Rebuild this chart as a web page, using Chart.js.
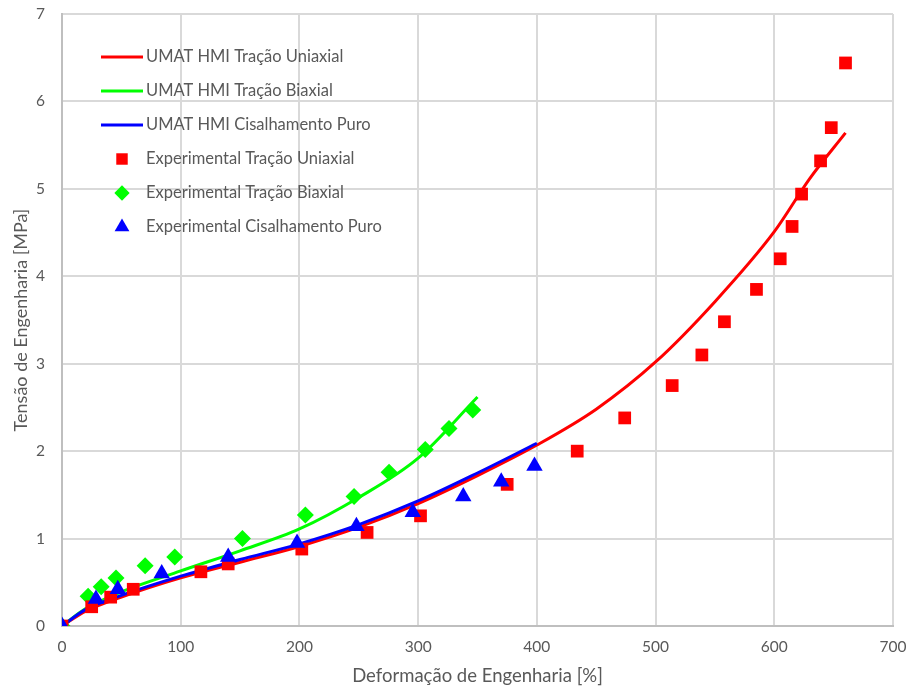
<!DOCTYPE html>
<html>
<head>
<meta charset="utf-8">
<script src="https://cdn.jsdelivr.net/npm/chart.js@4/dist/chart.umd.min.js"></script>
<style>
  html, body { margin: 0; padding: 0; background: #fff; }
  #wrap { width: 909px; height: 691px; position: relative; }
</style>
</head>
<body>
<div id="wrap"><canvas id="chart"></canvas></div>
<script>
// model curves (UMAT HMI)
var uniModelStrain = [0, 20, 50, 100, 150, 200, 250, 300, 350, 400, 450, 500, 550, 600, 630, 660];
var uniModelStress = [0, 0.17, 0.33, 0.55, 0.73, 0.91, 1.13, 1.40, 1.72, 2.07, 2.48, 3.02, 3.71, 4.51, 5.12, 5.64];

var biModelStrain = [0, 20, 50, 100, 150, 200, 250, 300, 350];
var biModelStress = [0, 0.20, 0.39, 0.63, 0.86, 1.11, 1.47, 1.92, 2.62];

var shearModelStrain = [0, 20, 50, 100, 150, 200, 250, 300, 350, 400];
var shearModelStress = [0, 0.19, 0.35, 0.57, 0.76, 0.94, 1.16, 1.43, 1.75, 2.09];

// experimental points
var uniExpStrain = [0, 25, 41, 60, 117, 140, 202, 257, 302, 375, 434, 474, 514, 539, 558, 585, 605, 615, 623, 639, 648, 660];
var uniExpStress = [0, 0.22, 0.33, 0.42, 0.62, 0.71, 0.88, 1.07, 1.26, 1.62, 2.00, 2.38, 2.75, 3.10, 3.48, 3.85, 4.20, 4.57, 4.94, 5.32, 5.70, 6.44];

var biExpStrain = [0, 22, 33, 45.5, 70, 95, 152, 205, 246, 275.5, 306, 326, 346];
var biExpStress = [0, 0.34, 0.45, 0.55, 0.69, 0.79, 1.00, 1.27, 1.48, 1.76, 2.02, 2.26, 2.47];

var shearExpStrain = [0, 28.6, 47, 84, 140, 198, 248, 295.5, 338, 370, 398];
var shearExpStress = [0, 0.31, 0.42, 0.60, 0.79, 0.95, 1.14, 1.30, 1.48, 1.65, 1.83];

var xTicks = [0, 100, 200, 300, 400, 500, 600, 700];
var yTicks = [0, 1, 2, 3, 4, 5, 6, 7];

var labels = [
    'UMAT HMI Tração Uniaxial',
    'UMAT HMI Tração Biaxial',
    'UMAT HMI Cisalhamento Puro',
    'Experimental Tração Uniaxial',
    'Experimental Tração Biaxial',
    'Experimental Cisalhamento Puro'
];

var RED = 'rgb(255, 0, 0)';
var GREEN = 'rgb(0, 255, 0)';
var BLUE = 'rgb(0, 0, 255)';
var TXT = '#595959';
var FONT = 'Lato';

function pairs(xs, ys) {
    return xs.map((x, i) => ({ x: x, y: ys[i] }));
}

function lineSet(label, xs, ys, color, order) {
    return {
        type: 'line', label: label, data: pairs(xs, ys),
        borderColor: color, backgroundColor: color, borderWidth: 3,
        pointRadius: 0, cubicInterpolationMode: 'monotone', fill: false, order: order
    };
}

function pointSet(label, xs, ys, color, style, radius, order) {
    return {
        type: 'scatter', label: label, data: pairs(xs, ys),
        borderColor: color, backgroundColor: color, borderWidth: 0,
        pointStyle: style, pointRadius: radius, pointHoverRadius: radius,
        showLine: false, order: order
    };
}

var datasets = [
    lineSet(labels[0], uniModelStrain, uniModelStress, RED, 6),
    lineSet(labels[1], biModelStrain, biModelStress, GREEN, 5),
    lineSet(labels[2], shearModelStrain, shearModelStress, BLUE, 4),
    pointSet(labels[3], uniExpStrain, uniExpStress, RED, 'rect', 9, 2),
    pointSet(labels[4], biExpStrain, biExpStress, GREEN, 'rectRot', 8.5, 3),
    pointSet(labels[5], shearExpStrain, shearExpStress, BLUE, 'triangle', 9.5, 1)
];

// legend drawn inside the plot area, like the original
var insideLegend = {
    id: 'insideLegend',
    afterDraw(chart) {
        var ctx = chart.ctx;
        var x0 = 101, x1 = 143, tx = 146, y = 57, step = 34;
        ctx.save();
        ctx.font = '16.5px ' + FONT;
        ctx.textBaseline = 'middle';
        ctx.textAlign = 'left';
        chart.data.datasets.forEach(function(ds) {
            if (ds.type === 'line') {
                ctx.strokeStyle = ds.borderColor;
                ctx.lineWidth = 3;
                ctx.beginPath();
                ctx.moveTo(x0, y);
                ctx.lineTo(x1, y);
                ctx.stroke();
            } else {
                ctx.fillStyle = ds.backgroundColor;
                ctx.strokeStyle = ds.borderColor;
                ctx.lineWidth = 0;
                Chart.helpers.drawPoint(ctx, {
                    pointStyle: ds.pointStyle, radius: ds.pointRadius * 0.9, rotation: 0, borderWidth: 0
                }, (x0 + x1) / 2, y);
            }
            ctx.fillStyle = TXT;
            ctx.fillText(ds.label, tx, y);
            y += step;
        });
        ctx.restore();
    }
};

new Chart(document.getElementById('chart'), {
    data: { datasets: datasets },
    options: {
        responsive: true,
        maintainAspectRatio: false,
        animation: false,
        layout: { padding: { left: 0, right: 16, top: 14, bottom: 0 } },
        plugins: {
            legend: { display: false },
            tooltip: { enabled: false }
        },
        scales: {
            x: {
                type: 'linear', min: 0, max: 700,
                afterBuildTicks: function(s) { s.ticks = xTicks.map(v => ({ value: v })); },
                afterFit: function(s) {
                    s.height = 65;
                    s.paddingLeft = 0; s.paddingRight = 0;
                },
                grid: { color: '#d9d9d9', lineWidth: 2, drawTicks: false },
                border: { color: '#bfbfbf', width: 2 },
                ticks: { color: TXT, font: { family: FONT, size: 15.5 }, padding: 12 },
                title: {
                    display: true, text: 'Deformação de Engenharia [%]',
                    color: TXT, font: { family: FONT, size: 18.5 }, padding: { top: 4 }
                }
            },
            y: {
                type: 'linear', min: 0, max: 7,
                afterBuildTicks: function(s) { s.ticks = yTicks.map(v => ({ value: v })); },
                afterFit: function(s) {
                    s.width = 62;
                    s.paddingTop = 0; s.paddingBottom = 0;
                },
                grid: { color: '#d9d9d9', lineWidth: 2, drawTicks: false },
                border: { color: '#bfbfbf', width: 2 },
                ticks: { color: TXT, font: { family: FONT, size: 15.5 }, padding: 17 },
                title: {
                    display: true, text: 'Tensão de Engenharia [MPa]',
                    color: TXT, font: { family: FONT, size: 18 }, padding: { top: 10, bottom: 0 }
                }
            }
        }
    },
    plugins: [insideLegend]
});
</script>
</body>
</html>
